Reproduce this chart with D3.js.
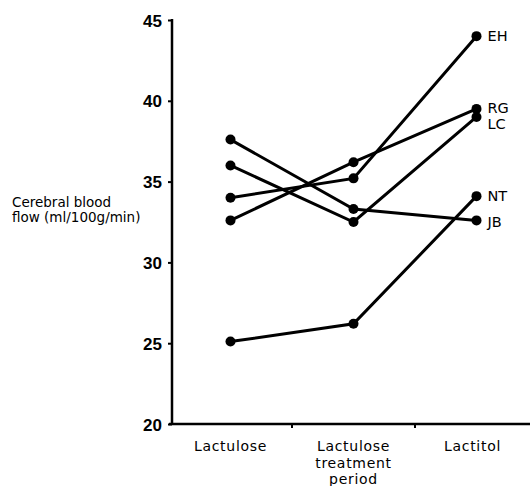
<!DOCTYPE html>
<html>
<head>
<meta charset="utf-8">
<script src="https://cdn.jsdelivr.net/npm/d3@7"></script>
<style>
  body { margin: 0; background: #fff; }
  svg text { font-family: "DejaVu Sans", "Liberation Sans", sans-serif; fill: #000; }
</style>
</head>
<body>
<div id="chart"></div>
<script>
// periods on the x axis
var periods = ["Lactulose", "Lactulose treatment period", "Lactitol"];
var periodLines = [["Lactulose"], ["Lactulose", "treatment", "period"], ["Lactitol"]];

// one value per period for each patient
var patients = ["EH", "RG", "LC", "NT", "JB"];
var flowEH = [34.0, 35.2, 44.0];
var flowRG = [32.6, 36.2, 39.5];
var flowLC = [36.0, 32.5, 39.0];
var flowNT = [25.1, 26.2, 34.1];
var flowJB = [37.6, 33.3, 32.6];
var yTicks = [20, 25, 30, 35, 40, 45];

var series = [flowEH, flowRG, flowLC, flowNT, flowJB].map(function (v, i) {
    return { name: patients[i], values: v };
});

var width = 530, height = 486;

var svg = d3.select("#chart")
    .append("svg")
    .attr("width", width)
    .attr("height", height);

var x = d3.scaleBand()
    .domain(periods)
    .range([169, 538]);

var y = d3.scaleLinear()
    .domain([20, 45])
    .range([424, 20]);

var xc = function (p) { return x(p) + x.bandwidth() / 2; };

// Y axis
var yAxis = svg.append("g")
    .attr("transform", "translate(172,0)")
    .call(d3.axisLeft(y).tickValues(yTicks).tickSize(4).tickPadding(6).tickSizeOuter(0));
yAxis.select(".domain").attr("stroke-width", 2.5).attr("d", "M0," + y(20) + "V" + (y(45) - 1));
yAxis.selectAll(".tick line").attr("stroke-width", 2);
yAxis.selectAll(".tick text")
    .style("font-family", "'Liberation Sans', sans-serif")
    .style("font-size", "17px")
    .style("font-weight", "bold")
    .attr("dy", "0.36em");

// X axis
var xAxis = svg.append("g")
    .attr("transform", "translate(0," + y(20) + ")");
xAxis.append("line")
    .attr("x1", 169).attr("x2", 530)
    .attr("stroke", "#000").attr("stroke-width", 2.5);
xAxis.selectAll(".sep")
    .data(periods.slice(1))
    .enter()
    .append("line")
    .attr("x1", function (d) { return x(d); })
    .attr("x2", function (d) { return x(d); })
    .attr("y1", 0).attr("y2", 4)
    .attr("stroke", "#000").attr("stroke-width", 2);

// period labels
periods.forEach(function (p, i) {
    var t = svg.append("text")
        .attr("x", xc(p) + (i === 2 ? -4 : 0))
        .attr("y", 451)
        .attr("text-anchor", "middle")
        .style("font-size", "14px")
        .style("letter-spacing", "0.7px");
    periodLines[i].forEach(function (s, j) {
        t.append("tspan")
            .attr("x", xc(p) + (i === 2 ? -4 : 0))
            .attr("dy", j === 0 ? 0 : 16.5)
            .text(s);
    });
});

// y axis title
svg.append("text")
    .attr("x", 12).attr("y", 207)
    .style("font-size", "13.5px")
    .text("Cerebral blood");
svg.append("text")
    .attr("x", 12).attr("y", 222)
    .style("font-size", "13.5px")
    .text("flow (ml/100g/min)");

// lines
var line = d3.line()
    .x(function (d, i) { return xc(periods[i]); })
    .y(function (d) { return y(d); });

svg.append("g")
    .selectAll("path")
    .data(series)
    .enter()
    .append("path")
    .attr("d", function (d) { return line(d.values); })
    .attr("fill", "none")
    .attr("stroke", "#000")
    .attr("stroke-width", 3);

// points
series.forEach(function (s) {
    svg.append("g")
        .selectAll("circle")
        .data(s.values)
        .enter()
        .append("circle")
        .attr("cx", function (d, i) { return xc(periods[i]); })
        .attr("cy", function (d) { return y(d); })
        .attr("r", 5)
        .style("fill", "#000");
});

// patient labels
var labelShift = { EH: 0, RG: -1, LC: 7, NT: 0, JB: 1 };
svg.append("g")
    .selectAll("text")
    .data(series)
    .enter()
    .append("text")
    .attr("x", xc(periods[2]) + 11)
    .attr("y", function (d) { return y(d.values[2]) + labelShift[d.name]; })
    .attr("dy", "0.36em")
    .style("font-size", "14.5px")
    .text(function (d) { return d.name; });
</script>
</body>
</html>
